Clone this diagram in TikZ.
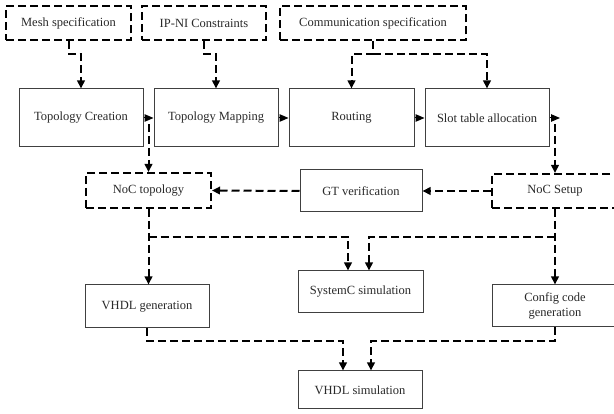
\documentclass[tikz,border=0pt]{standalone}
\usepackage{fontspec}
\setmainfont{Liberation Serif}
\usetikzlibrary{arrows.meta}
\definecolor{boxline}{HTML}{404040}
\definecolor{txt}{HTML}{2A2A2A}
\tikzset{
  solidbox/.style={draw=boxline, line width=1pt, rectangle, inner sep=0pt, text=txt, font=\fontsize{12.5}{15}\selectfont, align=center},
  dashbox/.style={draw=black, line width=2pt, dash pattern=on 8pt off 4pt, rectangle, inner sep=0pt, text=txt, font=\fontsize{12.5}{15}\selectfont, align=center},
  dasharrow/.style={draw=black, line width=2pt, dash pattern=on 8pt off 4pt, -{Triangle[length=8pt,width=7.5pt]}},
  solidarrow/.style={draw=black, line width=1pt, -{Triangle[length=9pt,width=7.5pt]}},
}
\begin{document}
\begin{tikzpicture}[x=1pt,y=-1pt]
\fill[white] (0,0) rectangle (614,414);
\useasboundingbox (0,0) rectangle (614,414);
% top inputs
\node[dashbox, minimum width=125pt, minimum height=34pt] (mesh) at (68.5,23.5) {Mesh specification};
\node[dashbox, minimum width=124pt, minimum height=34pt] (ipni) at (204,23.5) {IP-NI Constraints};
\node[dashbox, minimum width=186pt, minimum height=34pt] (comm) at (373,23.5) {Communication specification};
% main flow
\node[solidbox, minimum width=124pt, minimum height=58pt] (creation) at (81,118) {Topology Creation};
\node[solidbox, minimum width=124pt, minimum height=58pt] (mapping) at (216,118) {Topology Mapping};
\node[solidbox, minimum width=125pt, minimum height=58pt] (routing) at (351.5,118) {Routing};
\node[solidbox, minimum width=124pt, minimum height=58pt] (slot) at (487,118) {Slot table allocation};
% middle row
\node[dashbox, minimum width=125pt, minimum height=35pt] (noctopo) at (148.5,190.5) {NoC topology};
\node[solidbox, minimum width=122pt, minimum height=42pt] (gtver) at (361,191) {GT verification};
\node[dashbox, minimum width=126pt, minimum height=34pt] (nocsetup) at (555,191) {NoC Setup};
% outputs
\node[solidbox, minimum width=124pt, minimum height=43pt] (vhdlgen) at (147,306.5) {VHDL generation};
\node[solidbox, minimum width=125pt, minimum height=42pt] (systemc) at (360.5,292) {SystemC simulation};
\node[solidbox, minimum width=126pt, minimum height=42pt] (config) at (555,306) {Config code\\generation};
\node[solidbox, minimum width=124pt, minimum height=38pt] (vhdlsim) at (360,390) {VHDL simulation};
% coordinates
\coordinate (slotout) at (560,118);
\coordinate (c1) at (148.5,124);
\coordinate (c2) at (555,124);
\coordinate (b1) at (148.5,237);
\coordinate (b2) at (555,237);
% inputs to flow
\draw[dasharrow] (mesh.south) -- ++(0,13) -| (creation.north);
\draw[dasharrow] (ipni.south) -- ++(0,13) -| (mapping.north);
\draw[dasharrow] (comm.south) -- ++(0,13) -| (routing.north);
\draw[dasharrow] (comm.south) ++(0,13) -| (slot.north);
% flow arrows
\draw[solidarrow] (creation.east) -- (mapping.west);
\draw[solidarrow] (mapping.east) -- (routing.west);
\draw[solidarrow] (routing.east) -- (slot.west);
\draw[solidarrow] (slot.east) -- (slotout);
% down to middle row
\draw[dasharrow] (c1) -- (noctopo.north);
\draw[dasharrow] (c2) -- (nocsetup.north);
\draw[dasharrow] (nocsetup.west) -- (gtver.east);
\draw[dasharrow] (gtver.west) -- (noctopo.east);
% to outputs
\draw[dasharrow] (noctopo.south) -- (noctopo.south |- vhdlgen.north);
\draw[dasharrow] (b1) -| ([xshift=-12.5pt]systemc.north);
\draw[dasharrow] (nocsetup.south) -- (config.north);
\draw[dasharrow] (b2) -| ([xshift=8.5pt]systemc.north);
% to VHDL simulation
\draw[dasharrow] (vhdlgen.south) -- ++(0,13) -| ([xshift=-17pt]vhdlsim.north);
\draw[dasharrow] (config.south) -- ++(0,14) -| ([xshift=11pt]vhdlsim.north);
\end{tikzpicture}
\end{document}
